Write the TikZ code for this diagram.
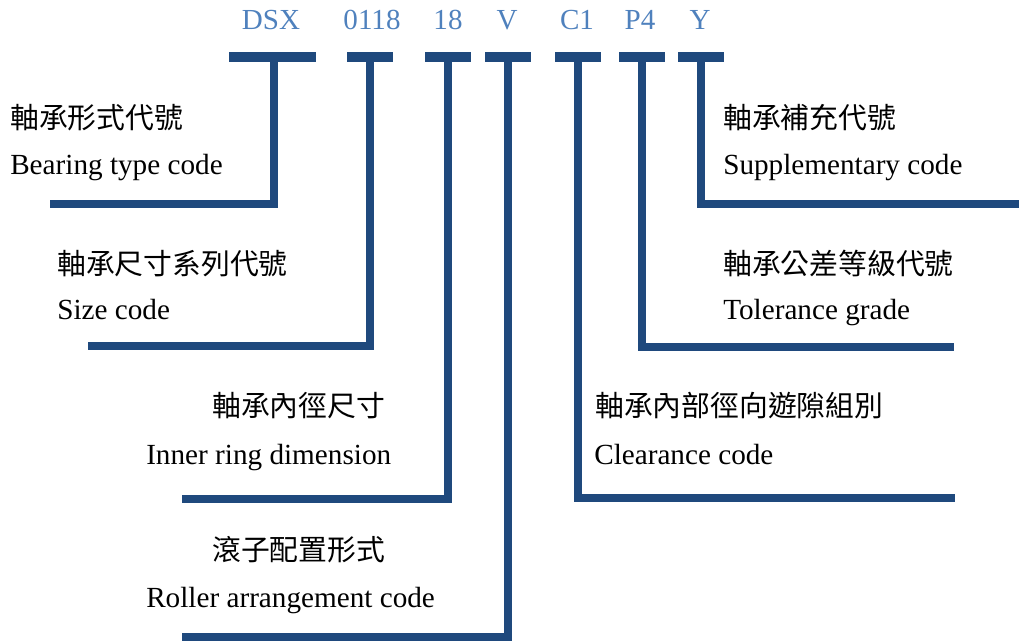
\documentclass[tikz,border=0pt]{standalone}
\usepackage{fontspec}
\setmainfont{Liberation Serif}
\newfontfamily\cjk{Noto Sans CJK TC}
\usepackage{tikz}
\usetikzlibrary{calc,positioning}
\definecolor{barblue}{HTML}{1F497D}
\definecolor{codeblue}{HTML}{4F81BD}

\begin{document}
\begin{tikzpicture}[x=0.75pt,y=-0.75pt,
		code/.style={anchor=base,inner sep=0pt,text=codeblue,font=\fontsize{21.8}{26}\selectfont},
		zh/.style={anchor=west,inner sep=0pt,font=\cjk\fontsize{21.6}{26}\selectfont},
		en/.style={anchor=base west,inner sep=0pt,font=\fontsize{21.9}{26}\selectfont},
		tbar/.style={barblue,line width=7.5pt},
		leg/.style={barblue,line width=6.4pt,line join=miter}]
			\useasboundingbox (0,0) rectangle (1019,641);
			% code letters
			\node[code] (dsx) at (271,30) {DSX};
			\node[code] (size) at (372,30) {0118};
			\node[code] (bore) at (448,30) {18};
			\node[code] (roll) at (507,30) {V};
			\node[code] (clr) at (577,30) {C1};
			\node[code] (tol) at (640,30) {P4};
			\node[code] (supp) at (700,30) {Y};
			% tops of the T bars
			\coordinate (A) at (274,57);
			\coordinate (B) at (370,57);
			\coordinate (C) at (448,57);
			\coordinate (D) at (508,57);
			\coordinate (E) at (578,57);
			\coordinate (F) at (642,57);
			\coordinate (G) at (701,57);
			% free ends of the legs
			\coordinate (A1) at (50,204);
			\coordinate (B1) at (88,346);
			\coordinate (C1) at (182,499);
			\coordinate (D1) at (182,637);
			\coordinate (E1) at (955,498);
			\coordinate (F1) at (954,347);
			\coordinate (G1) at (1019,204);
			\draw[tbar] ($(A)+(-45,0)$)--($(A)+(42,0)$);
			\foreach \p in {B,C,D,E,F,G}
				\draw[tbar] ($(\p)+(-23,0)$)--($(\p)+(23,0)$);
			\foreach \p in {A,B,C,D,E,F,G}
				\draw[leg] (\p) |- (\p1);
			% descriptions
			\node[zh] (dsxzh) at (10,118) {軸承形式代號};
			\node[en] (dsxen) at (10,175) {Bearing type code};
			\node[zh] (sizezh) at (57,264) {軸承尺寸系列代號};
			\node[en] (sizeen) at (57,319) {Size code};
			\node[zh] (borezh) at (212,406) {軸承內徑尺寸};
			\node[en] (boreen) at (146,464) {Inner ring dimension};
			\node[zh] (rollzh) at (212,550) {滾子配置形式};
			\node[en] (rollen) at (146,607) {Roller arrangement code};
			\node[zh] (suppzh) at (723,118) {軸承補充代號};
			\node[en] (suppen) at (723,175) {Supplementary code};
			\node[zh] (tolzh) at (723,263) {軸承公差等級代號};
			\node[en] (tolen) at (723,319) {Tolerance grade};
			\node[zh] (clrzh) at (595,406) {軸承內部徑向遊隙組別};
			\node[en] (clren) at (594,464) {Clearance code};
		\end{tikzpicture}
\end{document}
